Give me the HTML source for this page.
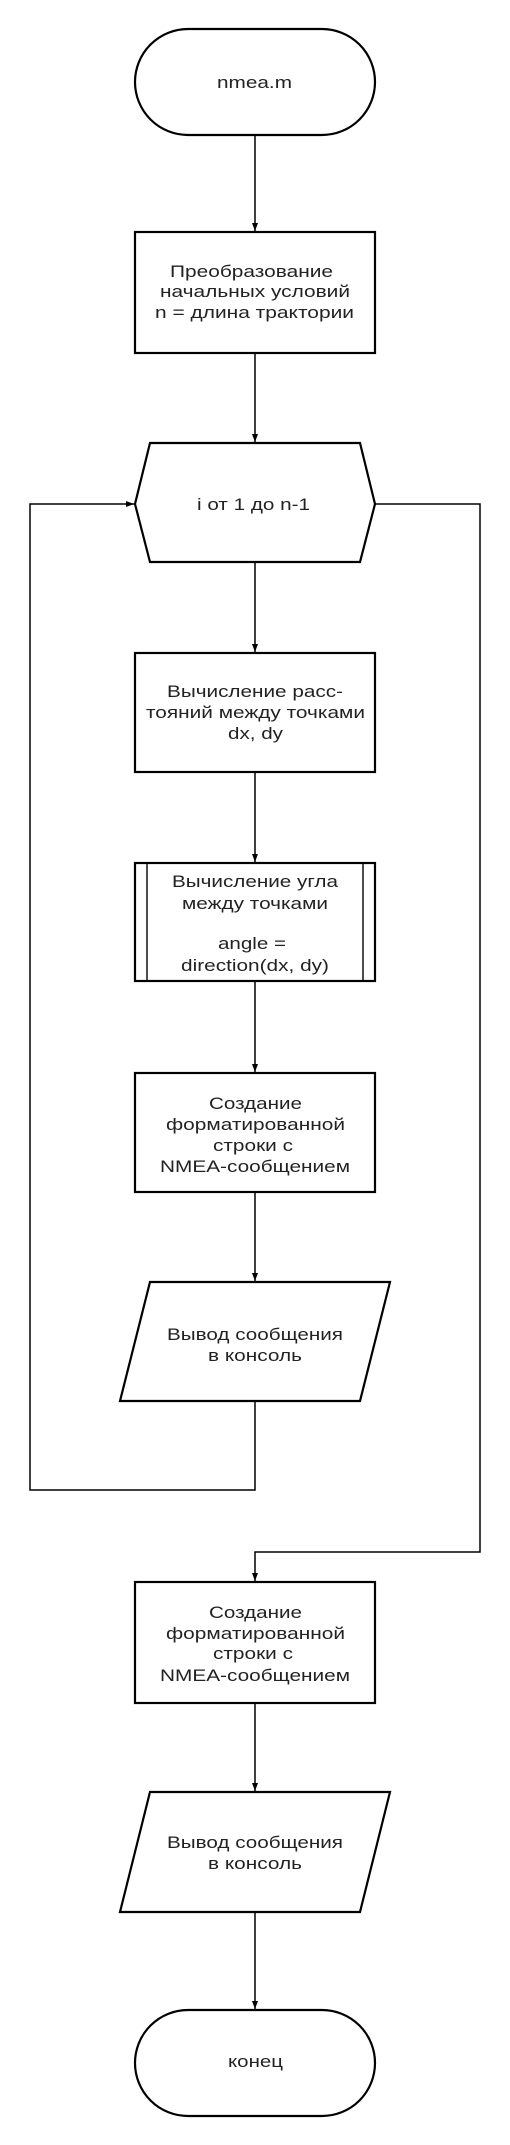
<!DOCTYPE html>
<html><head><meta charset="utf-8"><style>html,body{margin:0;padding:0;background:#fff}svg{display:block}</style></head>
<body>
<svg width="510" height="2145" viewBox="0 0 510 2145" xmlns="http://www.w3.org/2000/svg" font-family="Liberation Sans, sans-serif" fill="none" stroke="#000">
<defs><marker id="a" markerWidth="8" markerHeight="10" refX="8" refY="4" orient="auto" markerUnits="userSpaceOnUse"><path d="M0,1 L8,4 L0,7 Z" fill="#000" stroke="none"/></marker></defs>
<g stroke-width="1.5">
<line x1="255" y1="135" x2="255" y2="231" marker-end="url(#a)"/>
<line x1="255" y1="353" x2="255" y2="442" marker-end="url(#a)"/>
<line x1="255" y1="562" x2="255" y2="652" marker-end="url(#a)"/>
<line x1="255" y1="772" x2="255" y2="862" marker-end="url(#a)"/>
<line x1="255" y1="981" x2="255" y2="1072" marker-end="url(#a)"/>
<line x1="255" y1="1192" x2="255" y2="1281" marker-end="url(#a)"/>
<polyline points="255,1401 255,1490 30,1490 30,504 134,504" marker-end="url(#a)"/>
<polyline points="375,504 480,504 480,1552 255,1552 255,1581" marker-end="url(#a)"/>
<line x1="255" y1="1703" x2="255" y2="1791" marker-end="url(#a)"/>
<line x1="255" y1="1912" x2="255" y2="2009" marker-end="url(#a)"/>
</g>
<g stroke-width="2.2" fill="#fff">
<rect x="135" y="29" width="240" height="106" rx="53"/>
<rect x="135" y="232" width="240" height="121"/>
<polygon points="150,443 360,443 375,504 360,562 150,562 135,504"/>
<rect x="135" y="653" width="240" height="119"/>
<rect x="135" y="863" width="240" height="118"/>
<line x1="147" y1="863" x2="147" y2="981" stroke-width="1.4"/>
<line x1="363" y1="863" x2="363" y2="981" stroke-width="1.4"/>
<rect x="135" y="1073" width="240" height="119"/>
<polygon points="150,1282 390,1282 360,1401 120,1401"/>
<rect x="135" y="1582" width="240" height="121"/>
<polygon points="150,1792 390,1792 360,1912 120,1912"/>
<rect x="135" y="2010" width="240" height="106" rx="53"/>
</g>
<g fill="#222" stroke="none" font-size="16.5">
<text x="217" y="88" textLength="75" lengthAdjust="spacingAndGlyphs">nmea.m</text>
<text x="170" y="277" textLength="163" lengthAdjust="spacingAndGlyphs">Преобразование</text>
<text x="160" y="297" textLength="190" lengthAdjust="spacingAndGlyphs">начальных условий</text>
<text x="155" y="318" textLength="199" lengthAdjust="spacingAndGlyphs">n = длина трактории</text>
<text x="197" y="510" textLength="113" lengthAdjust="spacingAndGlyphs">i от 1 до n-1</text>
<text x="167" y="697" textLength="176" lengthAdjust="spacingAndGlyphs">Вычисление расс-</text>
<text x="146" y="718" textLength="219" lengthAdjust="spacingAndGlyphs">тояний между точками</text>
<text x="228" y="739" textLength="55" lengthAdjust="spacingAndGlyphs">dx, dy</text>
<text x="172" y="887" textLength="166" lengthAdjust="spacingAndGlyphs">Вычисление угла</text>
<text x="182" y="909" textLength="146" lengthAdjust="spacingAndGlyphs">между точками</text>
<text x="218" y="949" textLength="68" lengthAdjust="spacingAndGlyphs">angle =</text>
<text x="181" y="971" textLength="148" lengthAdjust="spacingAndGlyphs">direction(dx, dy)</text>
<text x="209" y="1109" textLength="93" lengthAdjust="spacingAndGlyphs">Создание</text>
<text x="166" y="1130" textLength="179" lengthAdjust="spacingAndGlyphs">форматированной</text>
<text x="213" y="1151" textLength="80" lengthAdjust="spacingAndGlyphs">строки с</text>
<text x="160" y="1172" textLength="190" lengthAdjust="spacingAndGlyphs">NMEA-сообщением</text>
<text x="167" y="1340" textLength="176" lengthAdjust="spacingAndGlyphs">Вывод сообщения</text>
<text x="208" y="1361" textLength="94" lengthAdjust="spacingAndGlyphs">в консоль</text>
<text x="209" y="1618" textLength="93" lengthAdjust="spacingAndGlyphs">Создание</text>
<text x="166" y="1639" textLength="179" lengthAdjust="spacingAndGlyphs">форматированной</text>
<text x="213" y="1659" textLength="80" lengthAdjust="spacingAndGlyphs">строки с</text>
<text x="160" y="1681" textLength="190" lengthAdjust="spacingAndGlyphs">NMEA-сообщением</text>
<text x="167" y="1848" textLength="176" lengthAdjust="spacingAndGlyphs">Вывод сообщения</text>
<text x="208" y="1869" textLength="94" lengthAdjust="spacingAndGlyphs">в консоль</text>
<text x="228" y="2067" textLength="55" lengthAdjust="spacingAndGlyphs">конец</text>
</g>
</svg>
</body></html>
